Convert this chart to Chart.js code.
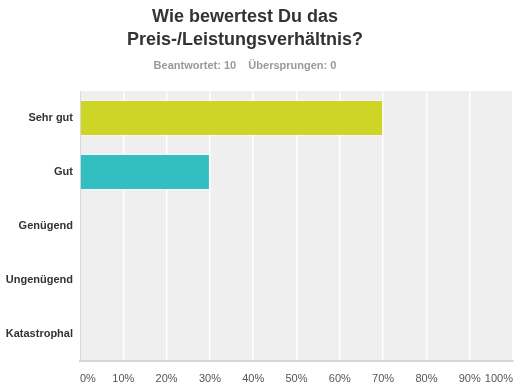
<!DOCTYPE html>
<html>
<head>
<meta charset="utf-8">
<script src="https://cdn.jsdelivr.net/npm/chart.js@4"></script>
<style>
  body { margin: 0; background: #fff; }
  #wrap { position: relative; width: 518px; height: 392px; }
  #title {
    position: absolute; left: 0; top: 5px; width: 490px;
    text-align: center; font: bold 18px "Liberation Sans", Arial, sans-serif;
    line-height: 23px; color: #333;
  }
  #sub {
    position: absolute; left: 0; top: 59px; width: 490px;
    text-align: center; font: bold 11px "Liberation Sans", Arial, sans-serif;
    color: #999;
  }
  canvas { position: absolute; left: 0; top: 0; }
</style>
</head>
<body>
<div id="wrap">
  <canvas id="chart" width="518" height="392"></canvas>
  <div id="title">Wie bewertest Du das<br>Preis-/Leistungsverhältnis?</div>
  <div id="sub">Beantwortet: 10&nbsp;&nbsp;&nbsp;&nbsp;Übersprungen: 0</div>
</div>
<script>
// answer options and share of answers (%)
const categories = ["Sehr gut", "Gut", "Genügend", "Ungenügend", "Katastrophal"];
const shares = [70, 30, 0, 0, 0];
const barColors = ["#cfd526", "#33bec2", "#cfd526", "#33bec2", "#cfd526"];

// grey plot background
const plotBg = {
  id: "plotBg",
  beforeDraw(chart) {
    const a = chart.chartArea;
    const c = chart.ctx;
    c.save();
    c.fillStyle = "#efefef";
    c.fillRect(a.left, a.top, a.right - a.left, a.bottom - a.top);
    c.restore();
  }
};

const ctx = document.getElementById("chart").getContext("2d");
new Chart(ctx, {
  type: "bar",
  data: {
    labels: categories,
    datasets: [{
      data: shares,
      backgroundColor: barColors,
      borderColor: "rgba(255,255,255,0.35)",
      borderWidth: 1,
      barPercentage: 0.667,
      categoryPercentage: 1
    }]
  },
  options: {
    indexAxis: "y",
    responsive: false,
    animation: false,
    layout: { padding: { top: 91, right: 5, left: 0, bottom: 0 } },
    plugins: { legend: { display: false }, tooltip: { enabled: false } },
    scales: {
      x: {
        min: 0,
        max: 100,
        ticks: {
          stepSize: 10,
          callback: v => v + "%",
          align: "inner",
          color: "#555",
          padding: 11,
          font: { family: "'Liberation Sans', Arial, sans-serif", size: 11 }
        },
        grid: { color: "#fff", lineWidth: 1.5, drawTicks: false },
        border: { color: "#d6d6d6", width: 2 },
        afterFit: s => { s.height = 31; s.paddingLeft = 0; s.paddingRight = 0; }
      },
      y: {
        ticks: {
          color: "#333",
          padding: 7,
          font: { family: "'Liberation Sans', Arial, sans-serif", size: 11, weight: "bold" }
        },
        grid: { display: false, drawTicks: false },
        border: { color: "#d9d9d9", width: 1 },
        afterFit: s => { s.width = 80; }
      }
    }
  },
  plugins: [plotBg]
});
</script>
</body>
</html>
